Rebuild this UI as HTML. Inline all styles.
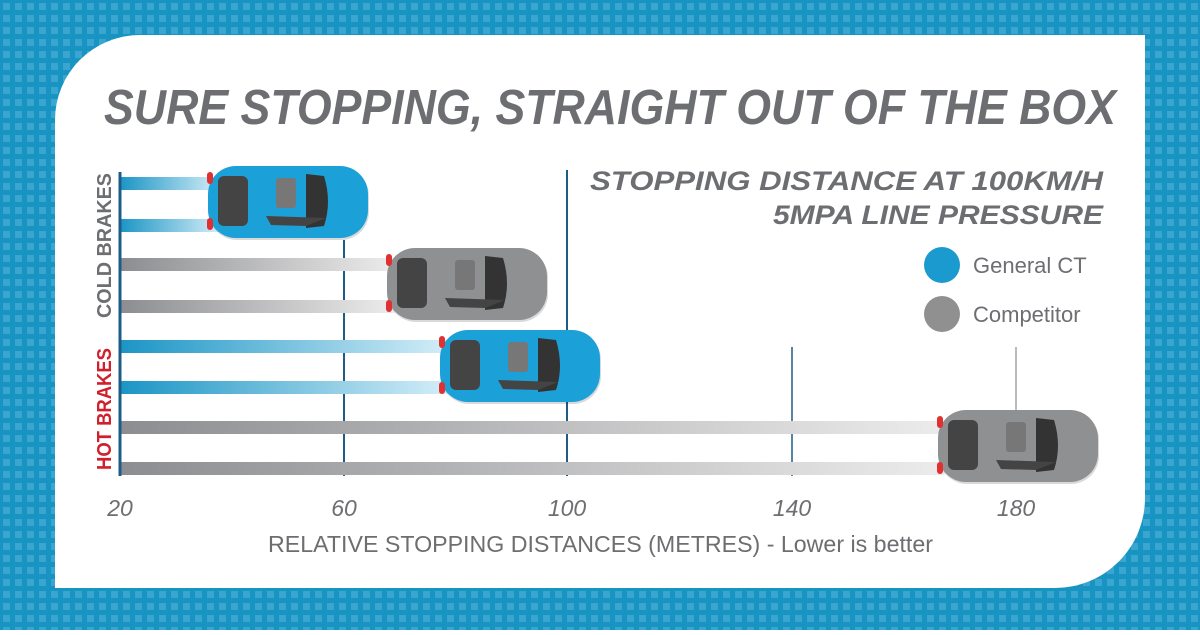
<!DOCTYPE html>
<html><head><style>
body{margin:0;width:1200px;height:630px;overflow:hidden;font-family:"Liberation Sans",sans-serif}
</style></head><body>
<svg width="1200" height="630" viewBox="0 0 1200 630" xmlns="http://www.w3.org/2000/svg">
<defs>
<pattern id="dots" width="12" height="12" patternUnits="userSpaceOnUse">
<rect width="12" height="12" fill="#1794c2"/>
<rect x="3" y="3" width="7" height="7" fill="#3aa6cf"/>
</pattern>
<linearGradient id="gb" x1="0" x2="1"><stop offset="0" stop-color="#1b95c5"/><stop offset="1" stop-color="#d5eef8"/></linearGradient>
<linearGradient id="gg" x1="0" x2="1"><stop offset="0" stop-color="#8c8d90"/><stop offset="1" stop-color="#ececec"/></linearGradient>
<g id="car">
<rect x="3" y="6" width="160" height="72" rx="28" fill="#000" opacity="0.15"/>
<rect x="2" y="4" width="160" height="72" rx="28" fill="currentColor"/>
<rect x="1" y="10" width="6" height="12" rx="3" fill="#e03030"/>
<rect x="1" y="56" width="6" height="12" rx="3" fill="#e03030"/>
<rect x="12" y="14" width="30" height="50" rx="6" fill="#444"/>
<rect x="70" y="16" width="20" height="30" rx="3" fill="#777"/>
<path d="M100 12 L118 14 Q126 40 118 64 L100 66 Z" fill="#333"/>
<path d="M60 54 L120 56 L100 64 L65 63Z" fill="#444"/>
</g>
</defs>
<rect width="1200" height="630" fill="url(#dots)"/>
<path d="M140 35 H1145 V498 A90 90 0 0 1 1055 588 H55 V120 A85 85 0 0 1 140 35Z" fill="#fff"/>
<text x="104" y="124" font-size="49" font-weight="bold" font-style="italic" fill="#6d6e71" textLength="1012" lengthAdjust="spacingAndGlyphs">SURE STOPPING, STRAIGHT OUT OF THE BOX</text>
<text x="1103" y="190" font-size="27" font-weight="bold" font-style="italic" fill="#6d6e71" text-anchor="end" textLength="513" lengthAdjust="spacingAndGlyphs">STOPPING DISTANCE AT 100KM/H</text>
<text x="1103" y="224" font-size="27" font-weight="bold" font-style="italic" fill="#6d6e71" text-anchor="end" textLength="330" lengthAdjust="spacingAndGlyphs">5MPA LINE PRESSURE</text>
<circle cx="942" cy="265" r="18" fill="#1b9ad0"/>
<text x="973" y="273" font-size="22" fill="#6d6e71">General CT</text>
<circle cx="942" cy="314" r="18" fill="#909090"/>
<text x="973" y="322" font-size="22" fill="#6d6e71">Competitor</text>
<line x1="344" y1="240" x2="344" y2="476" stroke="#1d5c86" stroke-width="2"/>
<line x1="567" y1="170" x2="567" y2="476" stroke="#1d5c86" stroke-width="2"/>
<line x1="792" y1="347" x2="792" y2="476" stroke="#1d5c86" stroke-width="1.5"/>
<line x1="1016" y1="347" x2="1016" y2="476" stroke="#777" stroke-width="1"/>
<rect x="120" y="177" width="100" height="13" fill="url(#gb)"/>
<rect x="120" y="219" width="100" height="13" fill="url(#gb)"/>
<rect x="120" y="258" width="275" height="13" fill="url(#gg)"/>
<rect x="120" y="300" width="275" height="13" fill="url(#gg)"/>
<rect x="120" y="340" width="330" height="13" fill="url(#gb)"/>
<rect x="120" y="381" width="330" height="13" fill="url(#gb)"/>
<rect x="120" y="421" width="825" height="13" fill="url(#gg)"/>
<rect x="120" y="462" width="825" height="13" fill="url(#gg)"/>
<line x1="120" y1="172" x2="120" y2="476" stroke="#1d5c86" stroke-width="3"/>
<use href="#car" x="206" y="162" style="color:#1ca0d8"/>
<use href="#car" x="385" y="244" style="color:#8f9092"/>
<use href="#car" x="438" y="326" style="color:#1ca0d8"/>
<use href="#car" x="936" y="406" style="color:#8f9092"/>
<text transform="translate(111 318) rotate(-90)" font-size="20" font-weight="bold" fill="#6d6e71" textLength="145" lengthAdjust="spacingAndGlyphs">COLD BRAKES</text>
<text transform="translate(111 470) rotate(-90)" font-size="20" font-weight="bold" fill="#d0202e" textLength="122" lengthAdjust="spacingAndGlyphs">HOT BRAKES</text>
<g font-size="23" font-style="italic" fill="#6d6e71" text-anchor="middle">
<text x="120" y="516">20</text><text x="344" y="516">60</text><text x="567" y="516">100</text><text x="792" y="516">140</text><text x="1016" y="516">180</text>
</g>
<text x="268" y="552" font-size="23" fill="#6d6e71" textLength="665" lengthAdjust="spacingAndGlyphs">RELATIVE STOPPING DISTANCES (METRES) - Lower is better</text>
</svg>
</body></html>
